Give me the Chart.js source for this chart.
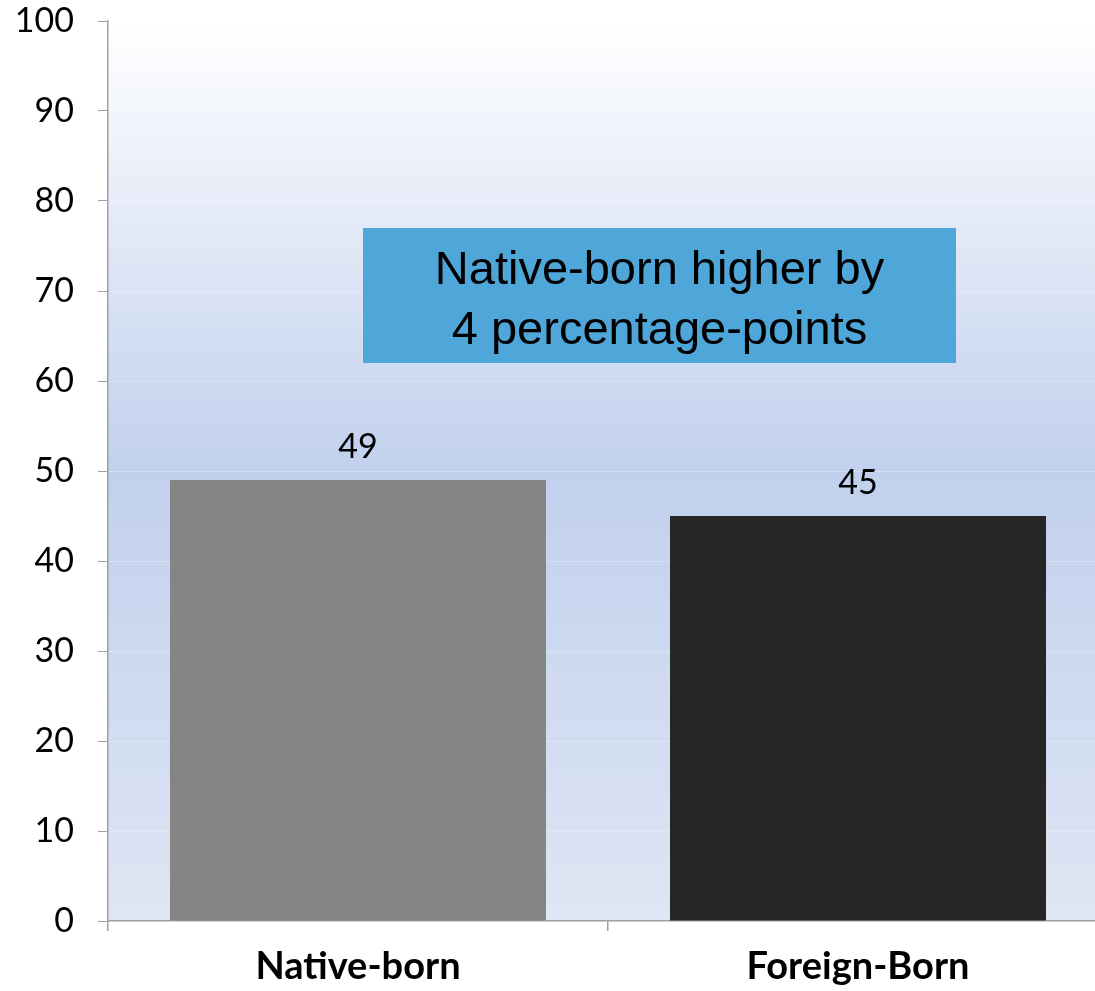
<!DOCTYPE html>
<html>
<head>
<meta charset="utf-8">
<style>
  html, body { margin: 0; padding: 0; background: #ffffff; overflow: hidden; }
  #wrap { width: 1110px; height: 991px; }
</style>
<script src="https://cdn.jsdelivr.net/npm/chart.js@4.4.1/dist/chart.umd.min.js"></script>
</head>
<body>
<div id="wrap"><canvas id="chart" width="1110" height="991"></canvas></div>
<script>
// Share of each group (percent)
const categories = ['Native-born', 'Foreign-Born'];
const shares = [49, 45];
const barColors = ['#858585', '#262626'];
const yTicks = [0, 10, 20, 30, 40, 50, 60, 70, 80, 90, 100];
const noteLines = ['Native-born higher by', '4 percentage-points'];
// Note box spans these values on the y scale
const noteRange = [62, 77];

// Soft blue wash behind the plot area
const plotBackground = {
  id: 'plotBackground',
  beforeDraw(chart) {
    const { ctx, chartArea: a } = chart;
    const g = ctx.createLinearGradient(0, a.top, 0, a.bottom);
    g.addColorStop(0, '#ffffff');
    g.addColorStop(0.5, '#c1d0ed');
    g.addColorStop(1, '#dfe6f4');
    ctx.save();
    ctx.fillStyle = g;
    ctx.fillRect(a.left, a.top, a.right - a.left, a.bottom - a.top);
    ctx.restore();
  }
};

// Value printed above each bar
const valueLabels = {
  id: 'valueLabels',
  afterDatasetsDraw(chart) {
    const { ctx } = chart;
    const meta = chart.getDatasetMeta(0);
    ctx.save();
    ctx.font = '34px Lato, "DejaVu Sans", sans-serif';
    ctx.fillStyle = '#000000';
    ctx.textAlign = 'center';
    ctx.textBaseline = 'middle';
    meta.data.forEach((bar, i) => {
      ctx.fillText(String(shares[i]), bar.x, bar.y - 33);
    });
    ctx.restore();
  }
};

// Highlighted note about the gap between the two groups
const noteBox = {
  id: 'noteBox',
  afterDatasetsDraw(chart) {
    const { ctx, chartArea: a } = chart;
    const y = chart.scales.y;
    const top = y.getPixelForValue(noteRange[1]);
    const bottom = y.getPixelForValue(noteRange[0]);
    const left = a.left + 255;
    const right = a.left + 848;
    ctx.save();
    ctx.fillStyle = '#4fa6d9';
    ctx.fillRect(left, top, right - left, bottom - top);
    ctx.fillStyle = '#000000';
    ctx.font = '47px "Liberation Sans", Arial, sans-serif';
    ctx.textAlign = 'center';
    ctx.textBaseline = 'alphabetic';
    const cx = (left + right) / 2;
    ctx.fillText(noteLines[0], cx, top + 56);
    ctx.fillText(noteLines[1], cx, top + 116);
    ctx.restore();
  }
};

new Chart(document.getElementById('chart'), {
  type: 'bar',
  data: {
    labels: categories,
    datasets: [{
      data: shares,
      backgroundColor: barColors,
      borderWidth: 0,
      barPercentage: 0.752,
      categoryPercentage: 1.0
    }]
  },
  options: {
    responsive: false,
    animation: false,
    layout: { padding: { top: 21, right: 2, left: 1, bottom: 0 } },
    plugins: {
      legend: { display: false },
      tooltip: { enabled: false }
    },
    scales: {
      x: {
        grid: {
          display: true,
          drawOnChartArea: false,
          drawTicks: true,
          tickLength: 10,
          tickColor: '#a0a0a0',
          lineWidth: 1.5,
          offset: true
        },
        border: { display: true, color: '#a0a0a0', width: 1.5 },
        ticks: {
          color: '#000000',
          font: { family: 'Lato, "DejaVu Sans", sans-serif', size: 38, weight: 'bold' },
          padding: 13,
          maxRotation: 0
        },
        afterFit(scale) {
          scale.height = 70;
          scale.paddingLeft = 0;
          scale.paddingRight = 0;
        }
      },
      y: {
        min: 0,
        max: 100,
        afterBuildTicks(scale) { scale.ticks = yTicks.map(v => ({ value: v })); },
        grid: {
          display: true,
          drawOnChartArea: true,
          color: 'rgba(255,255,255,0.25)',
          tickColor: '#a0a0a0',
          tickLength: 10,
          lineWidth: 1
        },
        border: { display: true, color: '#a0a0a0', width: 1.5 },
        ticks: {
          color: '#000000',
          font: { family: 'Lato, "DejaVu Sans", sans-serif', size: 34 },
          padding: 24
        },
        afterFit(scale) {
          scale.width = 107;
          scale.paddingTop = 0;
          scale.paddingBottom = 0;
        }
      }
    }
  },
  plugins: [plotBackground, valueLabels, noteBox]
});
</script>
</body>
</html>
